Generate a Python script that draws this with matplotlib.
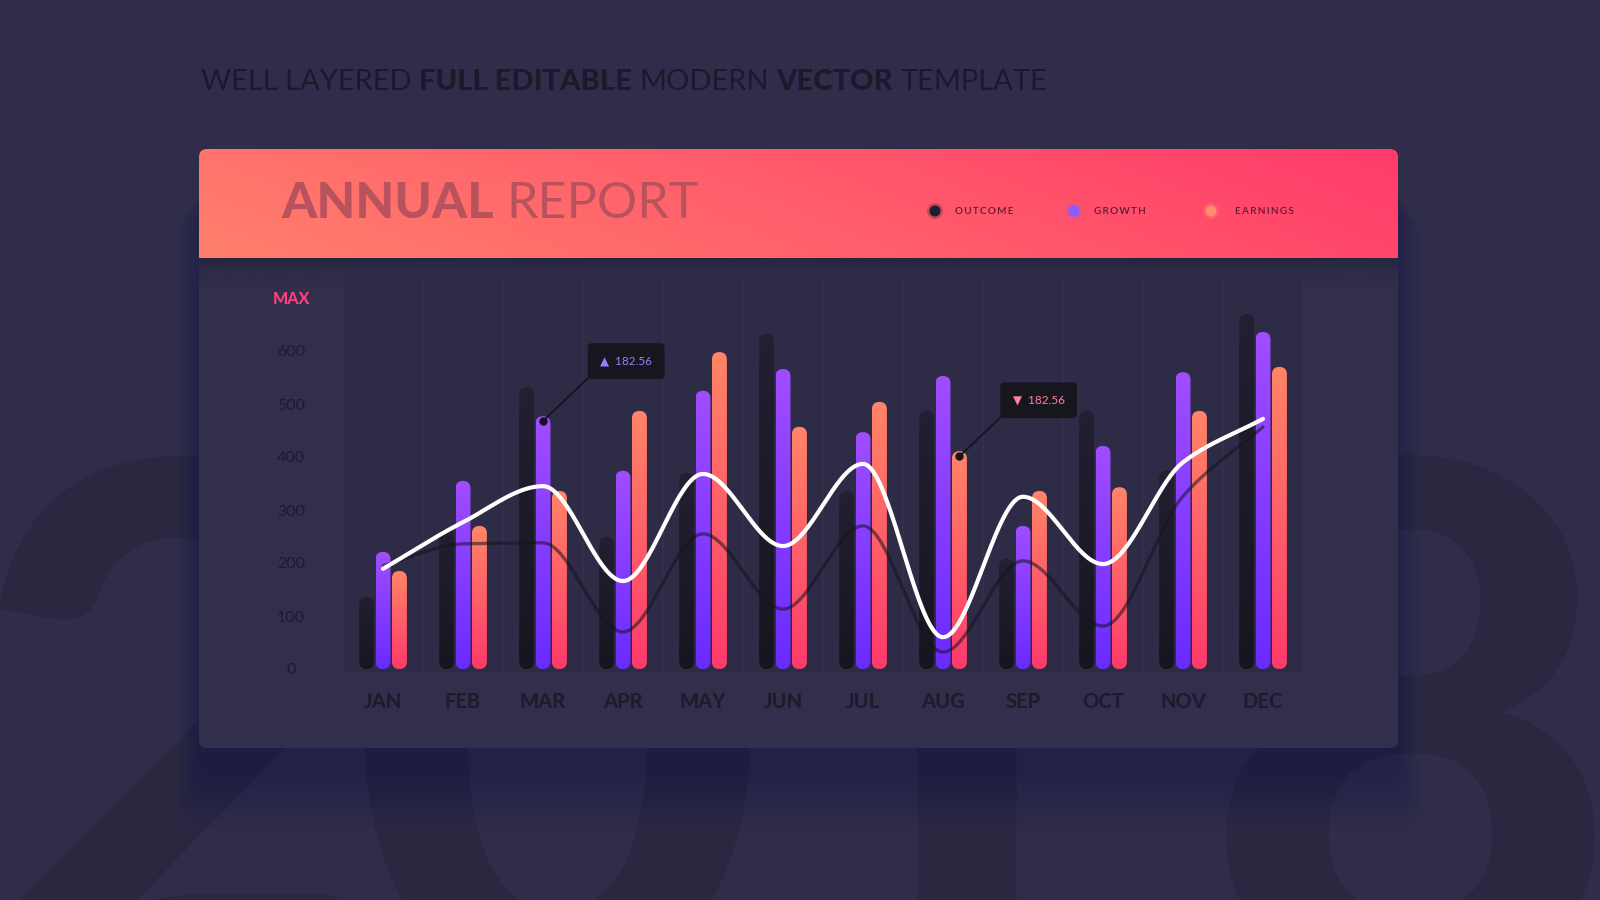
import numpy as np
import matplotlib
matplotlib.use("Agg")
import matplotlib.pyplot as plt
from matplotlib.patches import FancyBboxPatch, Circle
from matplotlib.colors import to_rgb

# ---------------- data ----------------
months = ['JAN', 'FEB', 'MAR', 'APR', 'MAY', 'JUN', 'JUL', 'AUG', 'SEP', 'OCT', 'NOV', 'DEC']
outcome = [136, 265, 532, 249, 370, 632, 336, 487, 208, 487, 374, 670]
growth = [221, 355, 477, 374, 525, 566, 447, 553, 270, 421, 560, 636]
earnings = [185, 270, 336, 487, 598, 457, 504, 411, 336, 343, 487, 570]
trend_white = [189, 277, 345, 166, 368, 232, 387, 60, 325, 198, 390, 472]
trend_dark = [195, 236, 238, 70, 255, 113, 270, 32, 204, 81, 326, 457]
ytick_values = [0, 100, 200, 300, 400, 500, 600, 700]
ytick_labels = ['0', '100', '200', '300', '400', '500', '600', 'MAX']
legend_labels = ['OUTCOME', 'GROWTH', 'EARNINGS']
callout_values = ['182.56', '182.56']
background_year = ['2', '0', '1', '8']

# ---------------- figure ----------------
W, H = 1600, 900
BG = '#2f2d4a'
fig = plt.figure(figsize=(16, 9), dpi=100)
fig.patch.set_facecolor(BG)
R = fig.canvas.get_renderer()

bg = fig.add_axes([0, 0, 1, 1])
bg.set_xlim(0, W)
bg.set_ylim(H, 0)
bg.axis('off')


def measure(s, size, weight, family):
    t = fig.text(0, 0, s, fontsize=size, fontweight=weight, family=family)
    w = t.get_window_extent(renderer=R).width
    t.remove()
    return w


def seq_text(parts, x_px, yc_px, target_w, color, family='Lato', base=20, zorder=5):
    def total(size):
        sp = measure('x x', size, 'normal', family) - measure('xx', size, 'normal', family)
        return sum(measure(s, size, w, family) for s, w in parts) + sp * (len(parts) - 1), sp
    tw, _ = total(base)
    size = base * target_w / tw
    _, sp = total(size)
    x = x_px
    base_px = yc_px + 0.358 * size * 100 / 72
    for s, w in parts:
        bg.text(x, base_px, s, fontsize=size, fontweight=w, family=family,
                color=color, ha='left', va='baseline', zorder=zorder)
        x += measure(s, size, w, family) + sp
    return size


# huge background year digits
for ch, cx in zip(background_year, [175, 557, 940, 1410]):
    bg.text(cx, 985, ch, fontsize=520, fontweight='black', family='Lato',
            color='#2a2841', ha='center', va='baseline', zorder=1)

# card shadow
for k in range(12):
    sh = FancyBboxPatch((199 - k * 2, 185 + k * 3), 1199 + k * 4, 590 + k * 2,
                        boxstyle='round,pad=0,rounding_size=20', fc='#1d1a48',
                        ec='none', alpha=0.035, zorder=2)
    bg.add_patch(sh)

# card
card = FancyBboxPatch((199, 149), 1199, 599, boxstyle='round,pad=0,rounding_size=8',
                      fc='#312f4b', ec='none', zorder=3)
bg.add_patch(card)

# header gradient
clip = FancyBboxPatch((199, 149), 1199, 160, boxstyle='round,pad=0,rounding_size=8',
                      fc='none', ec='none', transform=bg.transData)
bg.add_patch(clip)
u = np.linspace(0, 1, 400)[None, :]
v = np.linspace(0, 1, 60)[:, None]
t = np.clip(0.82 * u + 0.18 * (1 - v), 0, 1)
c_left, c_right = np.array(to_rgb('#ff806c')), np.array(to_rgb('#ff3b6a'))
img = c_left[None, None, :] * (1 - t[..., None]) + c_right[None, None, :] * t[..., None]
im = bg.imshow(img, extent=(199, 1398, 258, 149), origin='upper', aspect='auto',
               interpolation='bilinear', zorder=4)
im.set_clip_path(clip)

# header shadow on card
sv = np.linspace(0, 1, 60)[:, None, None]
shadow = np.zeros((60, 2, 4))
shadow[..., :3] = to_rgb('#15142a')
shadow[..., 3] = (0.4 * (1 - sv[..., 0]) ** 2)
bg.imshow(shadow, extent=(199, 1398, 290, 258), origin='upper', aspect='auto',
          interpolation='bilinear', zorder=3.5)

# titles
seq_text([('WELL LAYERED', 'normal'), ('FULL EDITABLE', 'black'), ('MODERN', 'normal'),
          ('VECTOR', 'black'), ('TEMPLATE', 'normal')], 201, 80, 847, '#1b1a2b')
seq_text([('ANNUAL', 'black'), ('REPORT', 'normal')], 281, 200, 418, '#b8525c')

# legend in header
legend_colors = ['#1e1c2e', '#8c5cff', '#ff8c6e']
for lab, col, dx, lx in zip(legend_labels, legend_colors, [935, 1074, 1211], [955, 1094, 1235]):
    bg.add_patch(Circle((dx, 211), 8, fc=col, ec='none', alpha=0.25, zorder=5))
    bg.add_patch(Circle((dx, 211), 5.5, fc=col, ec='none', zorder=6))
    bg.text(lx, 211, '\u2009'.join(lab), fontsize=7.2, fontweight='semibold',
            family=['Lato', 'DejaVu Sans'], color='#5e1a33', ha='left', va='center', zorder=6)

# ---------------- main chart axes ----------------
ax_left_px, ax_right_px = 343, 1303
ax_top_px, ax_bot_px = 270, 690
zero_px, px_per_unit = 669, 0.53
ax = fig.add_axes([ax_left_px / W, (H - ax_bot_px) / H,
                   (ax_right_px - ax_left_px) / W, (ax_bot_px - ax_top_px) / H])
ax.set_facecolor('none')
for s in ax.spines.values():
    s.set_visible(False)
xlim = (-0.5, 11.5)
ylim = ((zero_px - ax_bot_px) / px_per_unit, (zero_px - ax_top_px) / px_per_unit)
ax.set_xlim(*xlim)
ax.set_ylim(*ylim)
ma = ((ylim[1] - ylim[0]) / (ax_bot_px - ax_top_px)) / ((xlim[1] - xlim[0]) / (ax_right_px - ax_left_px))

xs = np.arange(len(months))

# column bands
band_w = 0.98
ax.bar(xs, 744, width=band_w, bottom=-8, color='#2d2b46', zorder=0.5)


def grad_bar(x, val, w, c_bottom, c_top, z):
    patch = FancyBboxPatch((x - w / 2, 0), w, val,
                           boxstyle='round,pad=0,rounding_size=%f' % (w / 2),
                           mutation_aspect=ma, fc='none', ec='none')
    ax.add_patch(patch)
    g = np.linspace(0, 1, 128)[:, None, None]
    cb, ct = np.array(to_rgb(c_bottom)), np.array(to_rgb(c_top))
    arr = cb[None, None, :] * (1 - g) + ct[None, None, :] * g
    im = ax.imshow(arr, extent=(x - w / 2, x + w / 2, 0, val), origin='lower',
                   aspect='auto', interpolation='bilinear', zorder=z)
    im.set_clip_path(patch)


bw, off = 0.1875, 0.205
for i in range(len(months)):
    grad_bar(xs[i] - off, outcome[i], bw, '#16151f', '#222031', 2)
    grad_bar(xs[i], growth[i], bw, '#6a2bff', '#a04dff', 2.1)
    grad_bar(xs[i] + off, earnings[i], bw, '#ff3a6b', '#ff8566', 2.2)


def monotone(x, y, n=60):
    x = np.asarray(x, float)
    y = np.asarray(y, float)
    h = np.diff(x)
    d = np.diff(y) / h
    m = np.zeros_like(y)
    m[0], m[-1] = d[0], d[-1]
    for k in range(1, len(x) - 1):
        if d[k - 1] * d[k] <= 0:
            m[k] = 0
        else:
            w1, w2 = 2 * h[k] + h[k - 1], h[k] + 2 * h[k - 1]
            m[k] = (w1 + w2) / (w1 / d[k - 1] + w2 / d[k])
    X, Y = [], []
    for k in range(len(x) - 1):
        s = np.linspace(0, 1, n)
        h00 = 2 * s ** 3 - 3 * s ** 2 + 1
        h10 = s ** 3 - 2 * s ** 2 + s
        h01 = -2 * s ** 3 + 3 * s ** 2
        h11 = s ** 3 - s ** 2
        X.append(x[k] + s * h[k])
        Y.append(h00 * y[k] + h10 * h[k] * m[k] + h01 * y[k + 1] + h11 * h[k] * m[k + 1])
    return np.concatenate(X), np.concatenate(Y)


lx, ly = monotone(xs, trend_dark)
ax.plot(lx, ly, color='#15141f', alpha=0.55, lw=2.4, solid_capstyle='round', zorder=5)
lx, ly = monotone(xs, trend_white)
ax.plot(lx, ly, color='white', lw=3.0, solid_capstyle='round', zorder=6)

# callouts
anchors = [(xs[2], growth[2] - 9), (xs[7] + off, earnings[7] - 10)]
offsets = [(1.04, 113), (0.99, 106)]
marks = ['\u25B2', '\u25BC']
tcolors = ['#9580ff', '#ff8296']
for (axx, ayy), (dx, dy), mk, val, tc in zip(anchors, offsets, marks, callout_values, tcolors):
    ax.annotate(mk + '  ' + val, xy=(axx, ayy), xytext=(axx + dx, ayy + dy),
                ha='center', va='center', fontsize=8.5, color=tc,
                family=['Lato', 'DejaVu Sans'], zorder=9,
                bbox=dict(boxstyle='round,pad=1.05,rounding_size=0.35', fc='#17161f', ec='none'),
                arrowprops=dict(arrowstyle='-', color='#15141d', lw=1.3, relpos=(0, 0),
                                shrinkA=0, shrinkB=0))
    ax.plot(axx, ayy, 'o', ms=5, color='#15141d', zorder=8)

# axes ticks
ax.set_xticks(xs, months)
ax.tick_params(axis='x', length=0, pad=1.5, labelsize=14.5, labelcolor='#1d1c2c')
for tl in ax.get_xticklabels():
    tl.set_fontweight('black')
    tl.set_family('Lato')
ax.set_yticks(ytick_values, ytick_labels)
ax.tick_params(axis='y', length=0, pad=(ax_left_px - 291) * 0.72, labelsize=11.5,
               labelcolor='#1c1b2e')
for tl in ax.get_yticklabels():
    tl.set_ha('center')
    tl.set_family('Lato')
ymax_lab = ax.get_yticklabels()[-1]
ymax_lab.set_color('#ff3d7f')
ymax_lab.set_fontweight('black')

ax.set_xlim(*xlim)
ax.set_ylim(*ylim)

fig.savefig('out.png', dpi=100, facecolor=fig.get_facecolor())
